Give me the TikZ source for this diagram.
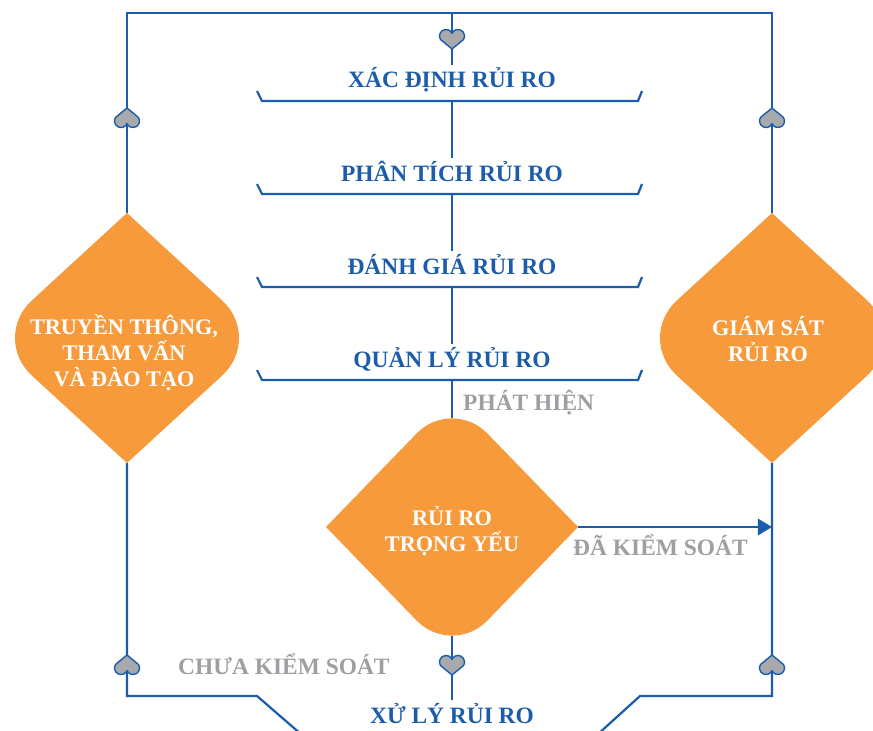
\documentclass[tikz,border=0pt]{standalone}
\usepackage{fontspec}
\setmainfont{Liberation Serif}
\usetikzlibrary{arrows.meta,calc,positioning}

\definecolor{flowblue}{HTML}{1B5DAA}
\definecolor{riskorange}{HTML}{F79A3C}
\definecolor{notegray}{HTML}{9D9FA2}
\definecolor{heartgray}{HTML}{A7A9AC}

\tikzset{
  flow/.style={draw=flowblue, line width=1.9pt},
  steptext/.style={text=flowblue, font=\bfseries\fontsize{20}{24}\selectfont, inner sep=2pt, anchor=base},
  notetext/.style={text=notegray, font=\bfseries\fontsize{20}{24}\selectfont, inner sep=0pt, anchor=base west},
  boxtext/.style={text=white, font=\bfseries\fontsize{19}{22}\selectfont, align=center},
  heart/.pic={
    \filldraw[fill=heartgray, draw=flowblue, line width=1.2pt, line join=round]
      (0,10) -- (-11.3,0.7) arc[start angle=145, end angle=337, radius=6.5]
      arc[start angle=203, end angle=395, radius=6.5] -- cycle;
  },
  sidediamond/.pic={
    \fill[riskorange] (0,-125) -- (-95.2,-37.5) .. controls (-117.6,-16.9) and (-117.6,16.9) .. (-95.2,37.5)
      -- (0,125) -- (95.2,37.5) .. controls (117.6,16.9) and (117.6,-16.9) .. (95.2,-37.5) -- cycle;
    \coordinate (-n) at (0,-125);
    \coordinate (-s) at (0,125);
  },
  keydiamond/.pic={
    \fill[riskorange] (-126,0) -- (-35.3,-93.6) .. controls (-15.9,-113.6) and (15.9,-113.6) .. (35.3,-93.6)
      -- (126,0) -- (35.3,93.6) .. controls (15.9,113.6) and (-15.9,113.6) .. (-35.3,93.6) -- cycle;
    \coordinate (-n) at (0,-108.6);
    \coordinate (-s) at (0,108.6);
    \coordinate (-e) at (126,0);
  }
}

\begin{document}
\begin{tikzpicture}[x=0.03cm, y=-0.03cm]
\useasboundingbox (0,0) rectangle (873,730);

% frame
\coordinate (tl) at (127,13);
\coordinate (tm) at (452,13);
\coordinate (tr) at (772,13);
\coordinate (bl) at (127,696);
\coordinate (br) at (772,696);
\coordinate (bl-in) at (257,696);
\coordinate (br-in) at (640,696);
\coordinate (bl-cut) at (302,735);
\coordinate (br-cut) at (597,735);

% steps with their brackets
\foreach \nm/\txt/\y [count=\i] in {identify/XÁC ĐỊNH RỦI RO/101, analyse/PHÂN TÍCH RỦI RO/194,
    evaluate/ĐÁNH GIÁ RỦI RO/287, manage/QUẢN LÝ RỦI RO/380}{
  \node[steptext] (\nm) at (452,\y-13) {\txt};
  \coordinate (b\i) at (452,\y);
  \draw[flow] (257,\y-10) -- (262,\y) -- (638,\y) -- (642,\y-10);
}
\node[steptext] (treat) at (452,723) {XỬ LÝ RỦI RO};

% diamonds
\pic (comm) at (127,338) {sidediamond};
\pic (monitor) at (772,338) {sidediamond};
\pic (keyrisk) at (452,527) {keydiamond};
\node[boxtext] (comm-text) at (124,353) {TRUYỀN THÔNG,\\THAM VẤN\\VÀ ĐÀO TẠO};
\node[boxtext] (monitor-text) at (768,339) {GIÁM SÁT\\RỦI RO};
\node[boxtext] (keyrisk-text) at (452,531) {RỦI RO\\TRỌNG YẾU};

% connectors
\draw[flow] (comm-n) -- (tl) -- (tr) -- (monitor-n);
\draw[flow] (tm) -- (identify);
\draw[flow] (b1) -- (analyse);
\draw[flow] (b2) -- (evaluate);
\draw[flow] (b3) -- (manage);
\draw[flow] (b4) -- (keyrisk-n);
\draw[flow] (keyrisk-s) -- (treat);
\draw[flow] (comm-s) -- (bl) -- (bl-in) -- (bl-cut);
\draw[flow] (monitor-s) -- (br) -- (br-in) -- (br-cut);
\draw[flow, -{Triangle[length=12pt,width=14pt]}] (keyrisk-e) -- (keyrisk-e -| tr);

% markers
\pic at (452,39) {heart};
\pic at (452,665) {heart};
\foreach \x in {127,772}{
  \pic[rotate=180] at (\x,118) {heart};
  \pic[rotate=180] at (\x,665) {heart};
}

% labels
\node[notetext] (detect) at (463,410) {PHÁT HIỆN};
\node[notetext] (controlled) at (573,555) {ĐÃ KIỂM SOÁT};
\node[notetext] (uncontrolled) at (178,674) {CHƯA KIỂM SOÁT};
\end{tikzpicture}
\end{document}
